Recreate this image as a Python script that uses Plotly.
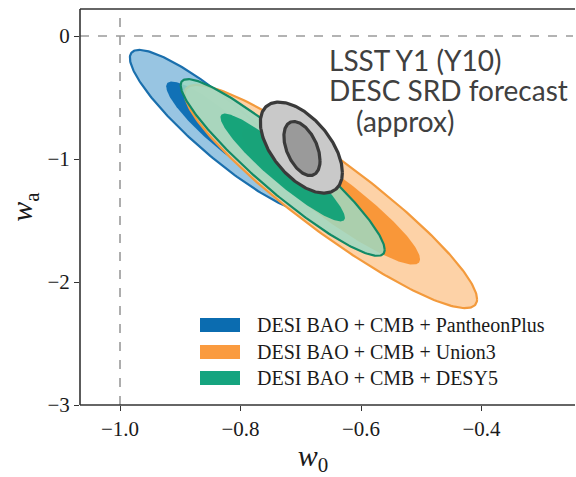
import numpy as np
import plotly.graph_objects as go

# ---- data ----
names = ["DESI BAO + CMB + PantheonPlus", "DESI BAO + CMB + Union3", "DESI BAO + CMB + DESY5"]
w0_center = [-0.829, -0.650, -0.730]
wa_center = [-0.772, -1.305, -1.069]
sigma_w0 = [0.0622, 0.0976, 0.0681]
sigma_wa = [0.265, 0.365, 0.289]
corr = [-0.90, -0.92, -0.93]

lsst_labels = ["LSST Y1", "LSST Y10"]
lsst_w0 = [-0.699, -0.698]
lsst_wa = [-0.907, -0.915]
lsst_half_w0 = [0.0681, 0.0300]
lsst_half_wa = [0.370, 0.220]
lsst_corr = [-0.55, -0.45]

x_ticks = [-1.0, -0.8, -0.6, -0.4]
y_ticks = [0, -1, -2, -3]

# ---- styles ----
outer_fill = ["rgba(143,192,224,0.92)", "rgba(253,206,160,0.92)", "rgba(158,216,194,0.85)"]
inner_fill = ["rgba(10,109,179,0.95)", "rgba(249,148,51,0.95)", "rgba(11,160,116,0.92)"]
line_col = ["#1a6fad", "#f39a3c", "#118a66"]
legend_col = ["#0b6cb0", "#fa9b3f", "#15a47f"]

K2 = np.sqrt(6.18)   # 95% 2D
K1 = np.sqrt(2.30)   # 68% 2D
t = np.linspace(0, 2 * np.pi, 240)


def ellipse(cx, cy, ax, ay, r):
    x = cx + ax * np.cos(t)
    y = cy + ay * (r * np.cos(t) + np.sqrt(1 - r * r) * np.sin(t))
    return x, y


fig = go.Figure()

for i in range(3):
    x, y = ellipse(w0_center[i], wa_center[i], K2 * sigma_w0[i], K2 * sigma_wa[i], corr[i])
    fig.add_trace(go.Scatter(x=x, y=y, mode="lines", fill="toself", fillcolor=outer_fill[i],
                             line=dict(color=line_col[i], width=2.2), name=names[i],
                             showlegend=False, hoverinfo="skip"))
    x, y = ellipse(w0_center[i], wa_center[i], K1 * sigma_w0[i], K1 * sigma_wa[i], corr[i])
    fig.add_trace(go.Scatter(x=x, y=y, mode="lines", fill="toself", fillcolor=inner_fill[i],
                             line=dict(width=0), name=names[i] + " 68%",
                             showlegend=False, hoverinfo="skip"))

gray_fill = ["#c9c9c9", "#9a9a9a"]
for j in range(2):
    x, y = ellipse(lsst_w0[j], lsst_wa[j], lsst_half_w0[j], lsst_half_wa[j], lsst_corr[j])
    fig.add_trace(go.Scatter(x=x, y=y, mode="lines", fill="toself", fillcolor=gray_fill[j],
                             line=dict(color="#3a3a3a", width=3.2), name=lsst_labels[j],
                             showlegend=False, hoverinfo="skip"))

# layout geometry (pixels)
FW, FH = 576, 477
L, T, B = 80, 9, 405
RM = 30
R = FW - RM
W, H = R - L, B - T
px_per_unit = 602.5
x_lo = -1.0664
x_hi = x_lo + W / px_per_unit
x_edge = 1 + (RM - 1) / W   # paper x of the figure's right edge (inside it)

# reference dashed lines
fig.add_shape(type="line", xref="x", yref="paper", x0=-1.0, x1=-1.0, y0=0, y1=1,
              line=dict(color="#9a9a9a", width=1.6, dash="dash"), layer="below")
fig.add_shape(type="line", xref="paper", yref="y", x0=0, x1=x_edge, y0=0, y1=0,
              line=dict(color="#9a9a9a", width=1.6, dash="dash"), layer="below")

# frame (left, bottom, top; the right side is cropped in the reference)
frame = dict(color="#333333", width=1.6)
fig.add_shape(type="line", xref="paper", yref="paper", x0=0, x1=0, y0=0, y1=1, line=frame)
fig.add_shape(type="line", xref="paper", yref="paper", x0=0, x1=x_edge, y0=0, y1=0, line=frame)
fig.add_shape(type="line", xref="paper", yref="paper", x0=0, x1=x_edge, y0=1, y1=1, line=frame)
# white strip over the last pixel columns (the reference has no right border)
fig.add_shape(type="rect", xref="paper", yref="paper", x0=1 + (RM - 3) / W, x1=1 + (RM + 2) / W,
              y0=0.01, y1=0.99, fillcolor="white", line=dict(width=0), layer="above")

# manual legend
rows_py = [325, 352, 378]
serif = "Liberation Serif, Times New Roman, serif"
for i in range(3):
    py = rows_py[i]
    fig.add_shape(type="rect", xref="paper", yref="paper",
                  x0=(200 - L) / W, x1=(240 - L) / W,
                  y0=(B - (py + 7)) / H, y1=(B - (py - 7)) / H,
                  fillcolor=legend_col[i], line=dict(width=0))
    fig.add_annotation(xref="paper", yref="paper", x=(255 - L) / W, y=(B - py) / H,
                       text=names[i], showarrow=False, xanchor="left", yanchor="middle",
                       font=dict(family=serif, size=20, color="#1a1a1a"))

# forecast annotation
ann_font = dict(family="Lato", size=28, color="#404040")
fig.add_annotation(x=-0.656, y=-0.195, text="LSST Y1 (Y10)", showarrow=False,
                   xanchor="left", yanchor="middle", font=ann_font)
fig.add_annotation(x=-0.656, y=-0.44, text="DESC SRD forecast", showarrow=False,
                   xanchor="left", yanchor="middle", font=ann_font)
fig.add_annotation(x=-0.612, y=-0.695, text="(approx)", showarrow=False,
                   xanchor="left", yanchor="middle", font=ann_font)

tick_font = dict(family=serif, size=21, color="#1a1a1a")
fig.update_layout(
    width=FW, height=FH,
    margin=dict(l=L, r=RM, t=T, b=FH - B, autoexpand=False),
    paper_bgcolor="white", plot_bgcolor="white",
    showlegend=False,
    xaxis=dict(range=[x_lo, x_hi], tickvals=x_ticks, automargin=False,
               ticktext=["\u2212%.1f" % abs(v) for v in x_ticks],
               showgrid=False, zeroline=False, showline=False,
               ticks="outside", ticklen=5, tickwidth=1.2, tickcolor="#333333",
               tickfont=tick_font,
               title=dict(text="<i>w</i><sub>0</sub>", font=dict(family=serif, size=30, color="#1a1a1a"),
                          standoff=12)),
    yaxis=dict(range=[-3, 0.2195], tickvals=y_ticks, automargin=False,
               ticktext=["0" if v == 0 else "\u2212%d" % abs(v) for v in y_ticks],
               showgrid=False, zeroline=False, showline=False,
               ticks="outside", ticklen=5, tickwidth=1.2, tickcolor="#333333",
               tickfont=tick_font,
               title=dict(text="<i>w</i><sub>a</sub>", font=dict(family=serif, size=30, color="#1a1a1a"),
                          standoff=5)),
)

fig.write_html("out.html")
